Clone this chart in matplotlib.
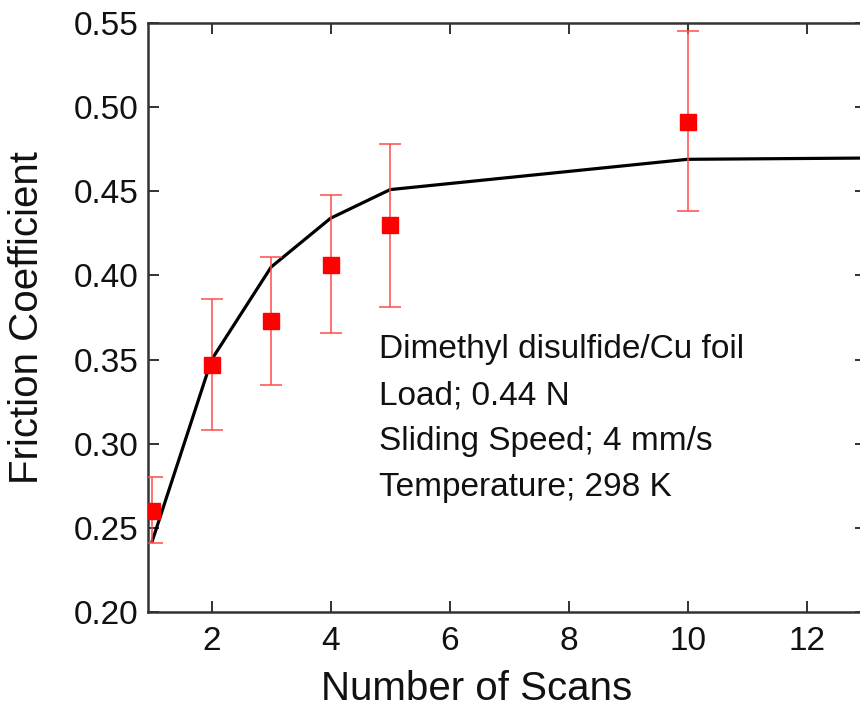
import matplotlib
matplotlib.use("Agg")
import matplotlib.pyplot as plt

scans = [1, 2, 3, 4, 5, 10]
friction = [0.260, 0.347, 0.373, 0.406, 0.430, 0.491]
err_upper = [0.280, 0.386, 0.411, 0.448, 0.478, 0.545]
err_lower = [0.241, 0.308, 0.335, 0.366, 0.381, 0.438]

fit_x = [1, 2, 3, 4, 5, 10, 14]
fit_y = [0.242, 0.350, 0.405, 0.434, 0.451, 0.469, 0.470]

xticks = [2, 4, 6, 8, 10, 12]
yticks = [0.20, 0.25, 0.30, 0.35, 0.40, 0.45, 0.50, 0.55]

plt.rcParams['font.family'] = ['Liberation Sans', 'DejaVu Sans']

fig = plt.figure(figsize=(8.6, 7.06), dpi=100)
W, H = 860, 706
left, right, top, bottom = 148, 866, 23, 612
ax = fig.add_axes([left / W, 1 - bottom / H, (right - left) / W, (bottom - top) / H])

yerr = [[f - l for f, l in zip(friction, err_lower)],
        [u - f for f, u in zip(friction, err_upper)]]

ax.plot(fit_x, fit_y, color='black', lw=2.3, zorder=2)
ax.errorbar(scans, friction, yerr=yerr, fmt='none', ecolor='#ff4a4a', elinewidth=1.1,
            capsize=8, capthick=1.1, zorder=3)
ax.plot(scans, friction, 's', color='#ff0000', ms=12, mec='#ff0000', zorder=4)

ax.set_xlim(0.93, 13.0)
ax.set_ylim(0.20, 0.55)
ax.set_xticks(xticks)
ax.set_yticks(yticks)
ax.set_yticklabels([f"{v:.2f}" for v in yticks])
ax.tick_params(direction='in', length=8, width=1.3, labelsize=24, top=True, right=True,
               colors='#222222', labelcolor='#111111')
ax.tick_params(axis='x', pad=10)
ax.tick_params(axis='y', pad=7)
for s in ax.spines.values():
    s.set_linewidth(1.8)
    s.set_color('#333333')

ax.set_xlabel('Number of Scans', fontsize=29, color='#111111', va='top')
ax.xaxis.set_label_coords(0.458, -0.098)
ax.set_ylabel('Friction Coefficient', fontsize=29, color='#111111')
ax.yaxis.set_label_coords(-0.142, 0.5)

lines = ['Dimethyl disulfide/Cu foil', 'Load; 0.44 N', 'Sliding Speed; 4 mm/s', 'Temperature; 298 K']
for i, t in enumerate(lines):
    ax.text(4.82, 0.356 - i * 0.02735, t, fontsize=24, va='center', ha='left', color='#111111')

fig.savefig('out.png', dpi=100)
